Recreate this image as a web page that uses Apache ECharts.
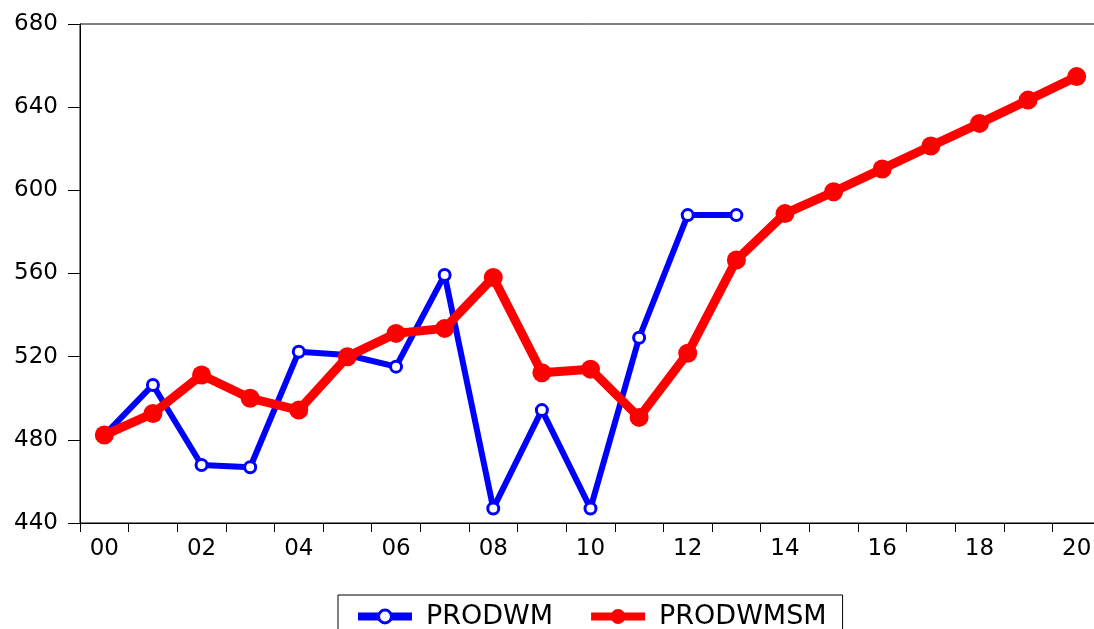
<!DOCTYPE html>
<html>
<head>
<meta charset="utf-8">
<script src="https://cdn.jsdelivr.net/npm/echarts@6/dist/echarts.min.js"></script>
<style>html,body{margin:0;padding:0;background:#fff;}#c{width:1094px;height:629px;}</style>
</head>
<body>
<div id="c"></div>
<script>
const categories = ['00','01','02','03','04','05','06','07','08','09','10','11','12','13','14','15','16','17','18','19','20'];
const prodwm = [482.3, 506.4, 467.9, 466.8, 522.4, 520.8, 515.2, 559.3, 447.0, 494.3, 447.0, 529.1, 588.1, 588.1];
const prodwmsm = [482.3, 492.7, 511.2, 500.0, 494.3, 520.0, 531.2, 533.6, 558.1, 512.3, 514.0, 490.8, 521.6, 566.5, 588.8, 599.3, 610.3, 621.3, 632.2, 643.4, 654.7];
const yMin = 440, yMax = 680, yStep = 40;

const FONT = 'DejaVu Sans';
const chart = echarts.init(document.getElementById('c'), null, {renderer: 'canvas'});
chart.setOption({
  animation: false,
  backgroundColor: '#ffffff',
  grid: {left: 80, top: 24, width: 1021, bottom: 106, outerBoundsMode: 'none', containLabel: false, show: true, borderColor: '#000', borderWidth: 1, backgroundColor: 'transparent'},
  legend: {
    left: 338, top: 595,
    orient: 'horizontal',
    padding: [8, 16, 12, 16],
    itemWidth: 54, itemHeight: 16, itemGap: 34,
    borderColor: '#000', borderWidth: 1, borderRadius: 0,
    textStyle: {fontFamily: FONT, fontSize: 27, color: '#000', padding: [0, 0, 0, 9]},
    data: [
      {name: 'PRODWM', lineStyle: {width: 8, color: '#0000ff'}, itemStyle: {color: '#ffffff', borderColor: '#0000ff', borderWidth: 3}},
      {name: 'PRODWMSM', lineStyle: {width: 8, color: '#ff0000'}, itemStyle: {color: '#ff0000', borderColor: '#ff0000', borderWidth: 2}}
    ]
  },
  xAxis: {
    type: 'category',
    data: categories,
    boundaryGap: true,
    axisLine: {show: true, lineStyle: {color: '#000', width: 1}},
    axisTick: {show: true, interval: 0, length: 9, inside: false, alignWithLabel: false, lineStyle: {color: '#000'}},
    axisLabel: {interval: 1, margin: 15, color: '#000', fontFamily: FONT, fontSize: 23},
    splitLine: {show: false}
  },
  yAxis: {
    type: 'value',
    min: yMin, max: yMax, interval: yStep,
    axisLine: {show: true, lineStyle: {color: '#000', width: 1}},
    axisTick: {show: true, length: 12, inside: false, lineStyle: {color: '#000'}},
    axisLabel: {margin: 22, color: '#000', fontFamily: FONT, fontSize: 23},
    splitLine: {show: false}
  },
  series: [
    {
      name: 'PRODWM', type: 'line', data: prodwm,
      symbol: 'circle', symbolSize: 11, showAllSymbol: true,
      lineStyle: {color: '#0000ff', width: 6},
      itemStyle: {color: '#ffffff', borderColor: '#0000ff', borderWidth: 3},
      z: 2
    },
    {
      name: 'PRODWMSM', type: 'line', data: prodwmsm,
      symbol: 'circle', symbolSize: 19, showAllSymbol: true,
      lineStyle: {color: '#ff0000', width: 9},
      itemStyle: {color: '#ff0000', borderColor: '#ff0000', borderWidth: 0},
      z: 3
    }
  ]
});
</script>
</body>
</html>
